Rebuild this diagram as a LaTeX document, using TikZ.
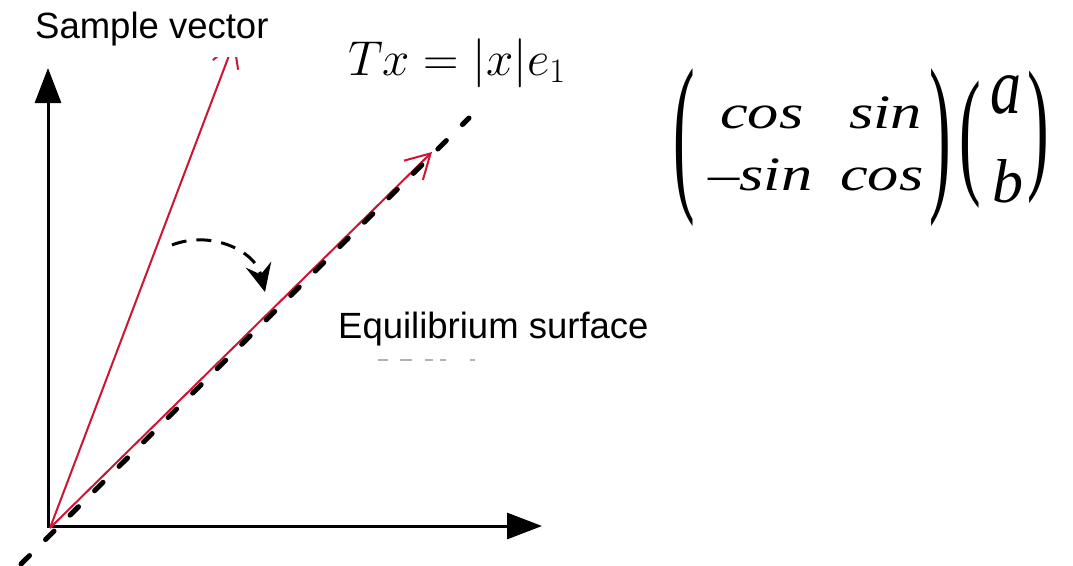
\RequirePackage{fix-cm}
\documentclass[tikz,border=0pt]{standalone}
\usepackage{fontspec}
\usepackage{graphicx}
\setmainfont{Liberation Serif}
\newfontfamily\arialf{Liberation Sans}
\newfontfamily\serifit{Liberation Serif Italic}
\usetikzlibrary{arrows.meta}
\definecolor{vecred}{RGB}{205,20,50}
\newcommand{\mtxt}[1]{\scalebox{1.3}[1]{\fontsize{48}{48}\serifit #1}}
\newcommand{\bigparen}[3]{\scalebox{1.35}[#2]{\fontsize{#1}{#1}\selectfont #3}}
\begin{document}
\begin{tikzpicture}[x=1pt,y=-1pt,
  axis/.style={line width=3pt, line cap=rect, -{Triangle[length=35pt,width=26pt]}},
  redvec/.style={vecred, line width=2pt, -{Straight Barb[length=24pt,width=27pt]}},
  eqline/.style={line width=5pt, dash pattern=on 12pt off 22.6pt, line cap=round},
  rotarrow/.style={line width=3pt, dash pattern=on 15pt off 10pt, -{Stealth[length=28pt,width=26pt,inset=10pt]}},
  lbl/.style={font=\arialf\fontsize{36.5}{40}\selectfont, inner sep=0pt, anchor=base west},
  frag/.style={gray!60, line width=2pt},
  mt/.style={inner sep=0pt, anchor=base west},
  par/.style={inner sep=0pt, anchor=center},
  ]
\useasboundingbox (0,0) rectangle (1073,565);
\coordinate (O) at (48,526);
\coordinate (R) at (50,528);
\coordinate (Ytip) at (48,68);
\coordinate (Xtip) at (542,526);
\coordinate (S) at (234.7,40.6);
\coordinate (E) at (432,152);
\coordinate (L1) at (21,564);
\coordinate (L2) at (469,118);
\coordinate (C1) at (172,245);
\coordinate (C2) at (265,292);

% axes
\draw[axis] (O) -- (Ytip);
\draw[axis] (O) -- (Xtip);

% sample vector (top clipped)
\begin{scope}
  \clip (0,57) rectangle (1073,565);
  \draw[redvec] (R) -- (S);
\end{scope}

% rotated vector and equilibrium line
\draw[redvec] (R) -- (E);
\draw[eqline] (L1) -- (L2);

% rotation arrow
\draw[rotarrow] (C1) .. controls (210,230) and (255,250) .. (C2);

% labels
\node[lbl] (sv) at (35,38) {Sample vector};
\node[lbl] (es) at (338,338) {Equilibrium surface};
\foreach \a/\b in {378/388, 400/412, 425/433, 440/446, 470/475}
  \draw[frag] (\a,360) -- (\b,360);

\node[mt] (tx) at (348,75)
  {\fontsize{49}{52}\selectfont $Tx = |x|e_1$};

% rotation matrix times vector
\node[par] (lp1) at (684,147.5) {\bigparen{48}{3.63}{(}};
\node[par] (rp1) at (940,147.5) {\bigparen{48}{3.63}{)}};
\node[mt] (m11) at (720,128) {\mtxt{cos}};
\node[mt] (m12) at (849,128) {\mtxt{sin}};
\node[mt] (m21) at (708,190) {\mtxt{–sin}};
\node[mt] (m22) at (840,190) {\mtxt{cos}};
\node[par] (lp2) at (970,145) {\bigparen{48}{2.93}{(}};
\node[par] (rp2) at (1038,137.5) {\bigparen{48}{3.05}{)}};
\node[mt] (va) at (990,113) {\scalebox{1}[1.3]{\fontsize{62}{62}\serifit a}};
\node[mt] (vb) at (992,202) {\fontsize{62}{62}\serifit b};
\end{tikzpicture}
\end{document}
